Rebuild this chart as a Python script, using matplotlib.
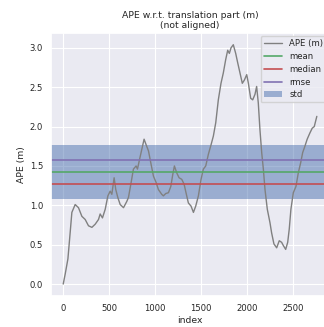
import matplotlib
matplotlib.use("Agg")
import matplotlib.pyplot as plt
import seaborn as sns

# APE trace (index, value)
ape_index = [0, 22, 51, 76, 94, 130, 166, 203, 239, 275, 312, 348, 384, 402, 427,
             457, 486, 511, 529, 554, 572, 594, 620, 656, 692, 710, 736, 764, 793,
             808, 830, 855, 880, 902, 928, 953, 982, 1011, 1036, 1072, 1090, 1116,
             1145, 1171, 1192, 1210, 1236, 1261, 1290, 1315, 1344, 1362, 1391, 1417,
             1442, 1471, 1500, 1525, 1551, 1580, 1609, 1634, 1660, 1688, 1717, 1742,
             1768, 1790, 1808, 1826, 1851, 1877, 1899, 1924, 1949, 1971, 1997, 2015,
             2040, 2062, 2087, 2105, 2123, 2141, 2160, 2178, 2196, 2221, 2250, 2268,
             2293, 2323, 2351, 2377, 2395, 2421, 2443, 2460, 2478, 2504, 2533, 2558,
             2584, 2606, 2630, 2655, 2685, 2710, 2732, 2747, 2760]
ape_value = [0.0, 0.13, 0.32, 0.66, 0.91, 1.01, 0.97, 0.86, 0.82, 0.74, 0.72, 0.76,
             0.82, 0.89, 0.84, 0.95, 1.12, 1.18, 1.14, 1.35, 1.20, 1.10, 1.01, 0.97,
             1.05, 1.10, 1.27, 1.46, 1.50, 1.46, 1.58, 1.71, 1.84, 1.77, 1.69, 1.54,
             1.37, 1.29, 1.20, 1.14, 1.12, 1.15, 1.16, 1.24, 1.39, 1.50, 1.41, 1.35,
             1.33, 1.27, 1.12, 1.03, 0.99, 0.91, 0.99, 1.12, 1.33, 1.46, 1.50, 1.65,
             1.77, 1.88, 2.05, 2.34, 2.55, 2.68, 2.85, 2.97, 2.93, 3.00, 3.04, 2.93,
             2.81, 2.68, 2.55, 2.59, 2.66, 2.55, 2.36, 2.34, 2.41, 2.51, 2.30, 1.96,
             1.67, 1.46, 1.20, 0.95, 0.78, 0.65, 0.51, 0.46, 0.55, 0.53, 0.49, 0.44,
             0.53, 0.70, 0.95, 1.16, 1.24, 1.41, 1.54, 1.67, 1.75, 1.84, 1.92, 1.98,
             2.00, 2.07, 2.13]

stat_mean = 1.42
stat_median = 1.265
stat_rmse = 1.57
stat_std = 0.344

title = "APE w.r.t. translation part (m)\n(not aligned)"

sns.set_theme(style="darkgrid")
plt.rcParams['font.family'] = ['DejaVu Sans']

fig = plt.figure(figsize=(3.24, 3.27), dpi=100)
ax = fig.add_axes([0.156, 0.0948, 0.861, 0.805])

ax.plot(ape_index, ape_value, color="gray", lw=1.0, label="APE (m)")
ax.axhline(stat_mean, color="#55a868", lw=1.2, label="mean")
ax.axhline(stat_median, color="#c44e52", lw=1.2, label="median")
ax.axhline(stat_rmse, color="#8172b2", lw=1.2, label="rmse")
ax.axhspan(stat_mean - stat_std, stat_mean + stat_std, color="#4c72b0", alpha=0.5, lw=0, label="std")

ax.set_title(title, fontsize=6.7, pad=3.5)
ax.set_xlabel("index", fontsize=6.7, labelpad=2.2)
ax.set_ylabel("APE (m)", fontsize=6.7, labelpad=2.5)
ax.tick_params(axis="both", length=0, labelsize=6.1)
ax.tick_params(axis="x", pad=5.6)
ax.tick_params(axis="y", pad=5.4)
ax.grid(color="white", lw=0.8)
leg = ax.legend(loc="upper right", fontsize=6.1, frameon=True, handlelength=2.2,
                borderpad=0.35, labelspacing=0.45, handletextpad=0.8,
                borderaxespad=0.4)

fig.savefig("out.png", dpi=100)
